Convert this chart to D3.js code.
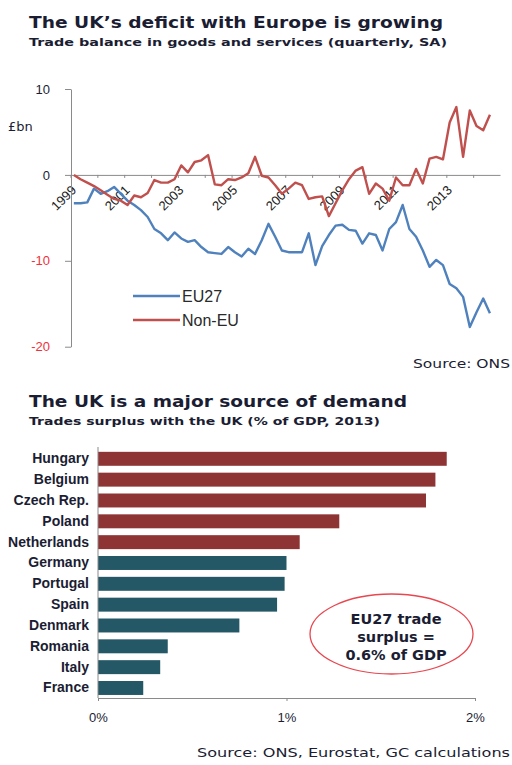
<!DOCTYPE html>
<html>
<head>
<meta charset="utf-8">
<script src="https://cdn.jsdelivr.net/npm/d3@7"></script>
<style>
  body { margin: 0; background: #fff; }
  svg { display: block; font-family: "DejaVu Sans", Verdana, sans-serif; }
</style>
</head>
<body>
<svg id="chart" width="512" height="765"></svg>
<script>
// Quarterly trade balance, £bn, 1999 Q1 onwards (seasonally adjusted)
const startYear = 1999;
const eu27 = [
  -3.3, -3.3, -3.2, -1.6, -2.2, -1.9, -1.4, -2.2, -3.0, -3.5,
  -4.1, -4.9, -6.3, -6.8, -7.6, -6.7, -7.4, -7.8, -7.6, -8.4,
  -9.0, -9.1, -9.2, -8.4, -9.0, -9.5, -8.6, -9.2, -7.6, -5.7,
  -7.2, -8.8, -9.0, -9.0, -9.0, -6.8, -10.5, -8.3, -7.0, -5.9,
  -5.8, -6.4, -6.5, -8.0, -6.8, -7.0, -8.8, -6.3, -5.5, -3.5,
  -6.3, -7.2, -8.8, -10.7, -9.9, -10.5, -12.7, -13.2, -14.2, -17.7,
  -16.0, -14.4, -16.1
];
const nonEU = [
  0.0, -0.5, -0.9, -1.3, -1.8, -2.3, -2.8, -3.0, -3.5, -2.4,
  -2.6, -2.1, -0.6, -0.9, -0.9, -0.5, 1.1, 0.3, 1.5, 1.7,
  2.3, -1.1, -1.2, -0.5, -0.6, -0.3, 0.2, 2.1, -0.1, -0.3,
  -1.2, -2.2, -1.6, -0.9, -1.2, -2.8, -2.6, -2.5, -4.8, -3.3,
  -1.8, -0.5, 0.5, 0.9, -2.2, -1.0, -1.6, -3.0, -0.3, -1.2,
  -1.2, 0.7, -1.0, 1.9, 2.1, 1.8, 6.1, 7.9, 2.1, 7.5,
  5.7, 5.2, 7.0
];
const seriesNames = ["EU27", "Non-EU"];
const yearLabels = ["1999", "2001", "2003", "2005", "2007", "2009", "2011", "2013"];
const balanceTicks = [10, 0, -10, -20];

// Trade surplus with the UK, % of GDP, 2013
const countries = ["Hungary", "Belgium", "Czech Rep.", "Poland", "Netherlands", "Germany",
                   "Portugal", "Spain", "Denmark", "Romania", "Italy", "France"];
const surplus = [1.85, 1.79, 1.74, 1.28, 1.07, 1.0, 0.99, 0.95, 0.75, 0.37, 0.33, 0.24];
const highlighted = ["Hungary", "Belgium", "Czech Rep.", "Poland", "Netherlands"];
const pctTicks = [0, 1, 2];

const svg = d3.select("#chart");
const ink = "#1b1d33";
const blue = "#4f81bd", red = "#c0504d";
const negRed = "#f0303a";

// ---------- headings ----------
function heading(txt, x, y, size, weight, len) {
  svg.append("text").attr("x", x).attr("y", y)
    .attr("font-size", size).attr("font-weight", weight).attr("fill", ink)
    .attr("textLength", len).attr("lengthAdjust", "spacingAndGlyphs")
    .text(txt);
}
heading("The UK\u2019s deficit with Europe is growing", 29, 27.5, 15, "bold", 414);
heading("Trade balance in goods and services (quarterly, SA)", 29, 46, 11, "bold", 418);
heading("The UK is a major source of demand", 29, 407, 15, "bold", 378);
heading("Trades surplus with the UK (% of GDP, 2013)", 29, 425, 11, "bold", 351);

// ---------- line chart ----------
const x = d3.scaleLinear().domain([0, 64]).range([70.5, 500]);
const y = d3.scaleLinear().domain([-20, 10]).range([346.7, 89]);

const xAxis = svg.append("g")
  .attr("transform", `translate(0,${y(0)})`)
  .call(d3.axisBottom(x)
    .tickValues(d3.range(0, 61, 4))
    .tickSize(3).tickSizeOuter(0)
    .tickFormat(d => d % 8 === 0 ? yearLabels[d / 8] : ""));
xAxis.select(".domain").attr("stroke", "#8a8a8a");
xAxis.selectAll(".tick line").attr("stroke", "#8a8a8a");
xAxis.selectAll(".tick text")
  .attr("x", 0).attr("y", 0).attr("dy", 0)
  .attr("text-anchor", "end")
  .attr("transform", "translate(6,16) rotate(-45)")
  .attr("font-size", 13).attr("fill", "#222");

const yAxis = svg.append("g")
  .attr("transform", "translate(71,0)")
  .call(d3.axisLeft(y).tickValues(balanceTicks).tickSize(6).tickSizeOuter(0)
    .tickFormat(d => d < 0 ? "-" + Math.abs(d) : String(d)));
yAxis.select(".domain").attr("stroke", "#8a8a8a");
yAxis.selectAll(".tick line").attr("stroke", "#8a8a8a");
yAxis.selectAll(".tick text")
  .attr("x", -21)
  .attr("font-size", 13)
  .attr("fill", d => d < 0 ? negRed : ink);

svg.append("text").attr("x", 8).attr("y", 131)
  .attr("font-size", 13).attr("fill", ink).text("£bn");

const line = d3.line().x((d, i) => x(i + 0.5)).y(d => y(d));
[[eu27, blue], [nonEU, red]].forEach(([vals, col]) => {
  svg.append("path").datum(vals)
    .attr("d", line).attr("fill", "none")
    .attr("stroke", col).attr("stroke-width", 2.4)
    .attr("stroke-linejoin", "round");
});

// legend
[[seriesNames[0], blue, 296], [seriesNames[1], red, 320]].forEach(([name, col, ly]) => {
  svg.append("line").attr("x1", 133).attr("x2", 180).attr("y1", ly).attr("y2", ly)
    .attr("stroke", col).attr("stroke-width", 2.4);
  svg.append("text").attr("x", 182).attr("y", ly + 5.5)
    .attr("font-family", "Liberation Sans, Arial, sans-serif")
    .attr("font-size", 16).attr("fill", "#2a2a2a").text(name);
});

svg.append("text").attr("x", 510).attr("y", 368).attr("text-anchor", "end")
  .attr("font-size", 13).attr("fill", ink)
  .attr("textLength", 97).attr("lengthAdjust", "spacingAndGlyphs")
  .text("Source: ONS");

// ---------- bar chart ----------
const bx = d3.scaleLinear().domain([0, 2]).range([98, 475]);
const by = d3.scaleBand().domain(countries).range([448.4, 698.4])
  .paddingInner(0.33).paddingOuter(0.165);

svg.append("g").selectAll("rect")
  .data(countries)
  .join("rect")
  .attr("x", bx(0))
  .attr("y", d => by(d))
  .attr("width", (d, i) => bx(surplus[i]) - bx(0))
  .attr("height", by.bandwidth())
  .attr("fill", d => highlighted.includes(d) ? "#8e3434" : "#245866");

const cAxis = svg.append("g")
  .attr("transform", `translate(${bx(0)},0)`)
  .call(d3.axisLeft(by).tickSize(0).tickPadding(9));
cAxis.select(".domain").attr("stroke", "#8a8a8a").attr("d", "M0,447V698");
cAxis.selectAll(".tick text")
  .attr("font-size", 14).attr("font-weight", "bold").attr("fill", ink);

const pAxis = svg.append("g")
  .attr("transform", "translate(0,698)")
  .call(d3.axisBottom(bx).tickValues(pctTicks).tickSize(3).tickSizeOuter(0)
    .tickFormat(d => d + "%"));
pAxis.select(".domain").attr("stroke", "#8a8a8a");
pAxis.selectAll(".tick line").attr("stroke", "#8a8a8a");
pAxis.selectAll(".tick text")
  .attr("y", 24).attr("dy", 0)
  .attr("font-size", 13).attr("fill", ink);

// annotation
svg.append("ellipse").attr("cx", 391.5).attr("cy", 634).attr("rx", 81.5).attr("ry", 40)
  .attr("fill", "none").attr("stroke", "#e8474f").attr("stroke-width", 1.3);
["EU27 trade", "surplus =", "0.6% of GDP"].forEach((t, i) => {
  svg.append("text").attr("x", 396).attr("y", 624 + i * 18)
    .attr("text-anchor", "middle").attr("font-size", 14.5).attr("font-weight", "bold")
    .attr("fill", ink).text(t);
});

svg.append("text").attr("x", 510).attr("y", 757).attr("text-anchor", "end")
  .attr("font-size", 13).attr("fill", ink)
  .attr("textLength", 313).attr("lengthAdjust", "spacingAndGlyphs")
  .text("Source: ONS, Eurostat, GC calculations");
</script>
</body>
</html>
